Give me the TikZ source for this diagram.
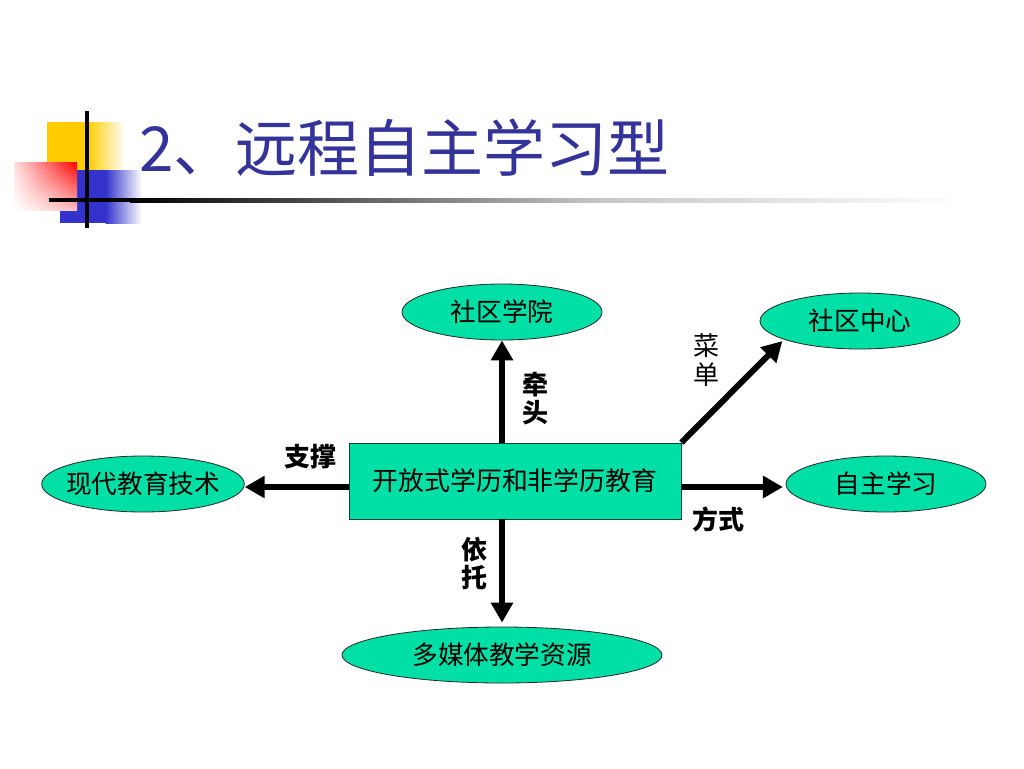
\documentclass[tikz,border=0pt]{standalone}
\usepackage{fontspec}
\setmainfont{Noto Sans CJK SC}
\usetikzlibrary{shapes.geometric,arrows.meta,shadings}
\definecolor{nodegreen}{HTML}{00DFA6}
\definecolor{titleblue}{HTML}{333399}
\definecolor{deco yellow}{HTML}{FFCC00}
\definecolor{deco blue}{HTML}{3333CC}
\begin{document}
\begin{tikzpicture}[x=0.75pt,y=-0.75pt,
  ell/.style={ellipse,draw=black!85,line width=0.6pt,fill=nodegreen,inner xsep=-14pt,inner ysep=0pt,
    minimum height=42pt,font=\fontsize{19.2}{22}\selectfont},
  boxnode/.style={rectangle,draw=black!70!nodegreen,line width=0.7pt,fill=nodegreen,
    minimum width=249pt,minimum height=57pt,inner sep=0pt,font=\fontsize{19.4}{22}\selectfont},
  arr/.style={line width=4.5pt,-{Triangle[width=16pt,length=15pt]}},
  lbl/.style={font=\fontsize{19.5}{21}\selectfont\bfseries,align=center,inner sep=0pt},
  lblr/.style={font=\fontsize{19.5}{21.5}\selectfont,align=center,inner sep=0pt}]
\useasboundingbox (0,0) rectangle (1024,768);
\fill[white] (0,0) rectangle (1024,768);
% decoration
\fill[deco yellow] (47,122) rectangle (88,171);
\shade[left color=deco yellow,right color=white] (87.5,122) rectangle (125,171);
\fill[deco blue] (60,170) rectangle (106,223);
\shade[left color=deco blue,right color=white] (105.5,170) rectangle (142,223);
\shade[upper left=red!12,upper right=red,lower left=white,lower right=red!25] (14,162) rectangle (77,210);
\fill[black] (49,198) rectangle (131,202);
\shade[left color=black,right color=black!22] (130,198) rectangle (601,202);
\shade[left color=black!22,right color=white] (600,198) rectangle (962,202);
\draw[line width=2.4pt] (87,111) -- (87,228);
% title
\node[anchor=west,text=titleblue,font=\fontsize{46.5}{52}\selectfont,inner sep=0pt] (title) at (139,148) {2、远程自主学习型};
% nodes
\node[boxnode] (center) at (515,481) {开放式学历和非学历教育};
\node[ell,minimum width=150pt] (college) at (502,312) {社区学院};
\node[ell,minimum width=150pt] (community) at (860,321) {社区中心};
\node[ell,minimum width=152pt] (tech) at (143,484) {现代教育技术};
\node[ell,minimum width=150pt] (self) at (886,484) {自主学习};
\node[ell,minimum width=240pt] (media) at (502,655) {多媒体教学资源};
% arrows
\draw[arr] (center.north -| college.south) -- (college.south);
\draw[arr,shorten >=3pt] (center.south -| media.north) -- (media.north);
\draw[arr] (center.west |- 0,487) coordinate (lstart) -- (tech.east |- lstart);
\draw[arr] (center.east |- 0,487) coordinate (rstart) -- ([xshift=-2pt]self.west |- rstart);
\draw[arr] (center.north east) -- ([shift={(-5pt,0pt)}]community.south west);
% labels
\node[lbl] (l1) at (535,399) {牵\\头};
\node[lblr] (l2) at (706,360) {菜\\单};
\node[lbl] (l3) at (474,563) {依\\托};
\node[lbl] (l4) at (310,457) {支撑};
\node[lbl] (l5) at (718,519) {方式};
\end{tikzpicture}
\end{document}
